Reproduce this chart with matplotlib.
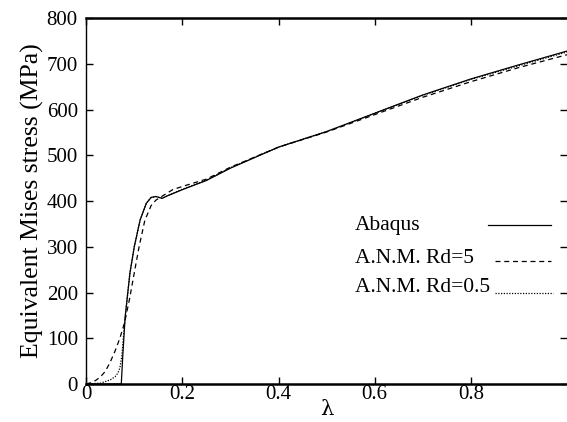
import matplotlib
matplotlib.use("Agg")
import matplotlib.pyplot as plt
import numpy as np

plt.rcParams['font.family'] = ['Liberation Serif', 'DejaVu Serif']

# Abaqus reference solution
lam_abaqus = [0.0, 0.073, 0.076, 0.081, 0.091, 0.1, 0.112, 0.125, 0.135, 0.145,
              0.158, 0.17, 0.2, 0.25, 0.3, 0.4, 0.5, 0.6, 0.7, 0.8, 0.9, 1.0]
s_abaqus = [0, 0, 60, 146, 243, 300, 358, 395, 408, 410,
            406, 412, 425, 445, 472, 518, 552, 592, 632, 667, 698, 728]

# A.N.M. Rd=5
lam_rd5 = [0.0, 0.01, 0.02, 0.03, 0.04, 0.05, 0.06, 0.07, 0.08, 0.09, 0.1,
           0.11, 0.122, 0.135, 0.145, 0.16, 0.18, 0.2, 0.25, 0.3, 0.4, 0.5,
           0.6, 0.7, 0.8, 0.9, 1.0]
s_rd5 = [0, 3, 8, 16, 28, 48, 72, 100, 135, 185, 243,
         300, 358, 390, 402, 412, 425, 432, 448, 474, 518, 551,
         589, 627, 661, 692, 720]

# A.N.M. Rd=0.5
lam_rd05 = [0.0, 0.03, 0.05, 0.06, 0.066, 0.07, 0.074, 0.078, 0.081, 0.091,
            0.1, 0.112, 0.125, 0.135, 0.145, 0.158, 0.17, 0.2, 0.25, 0.3,
            0.4, 0.5, 0.6, 0.7, 0.8, 0.9, 1.0]
s_rd05 = [0, 2, 9, 16, 24, 35, 60, 110, 146, 243,
          300, 358, 395, 408, 410, 406, 412, 426, 446, 473,
          518, 552, 592, 631, 666, 696, 726]

labels = ["Abaqus", "A.N.M. Rd=5", "A.N.M. Rd=0.5"]
styles = ["-", (0, (4, 3)), (0, (1, 1.2))]

fig = plt.figure(figsize=(5.67, 4.22), dpi=100)
ax = fig.add_axes([0.152, 0.09, 0.848, 0.867])

ax.plot(lam_abaqus, s_abaqus, color="black", lw=0.9, ls=styles[0])
ax.plot(lam_rd5, s_rd5, color="black", lw=0.9, ls=styles[1])
ax.plot(lam_rd05, s_rd05, color="black", lw=0.9, ls=styles[2])

ax.set_xlim(0, 1)
ax.set_ylim(0, 800)
ax.set_xticks([0, 0.2, 0.4, 0.6, 0.8])
ax.set_xticklabels(["0", "0.2", "0.4", "0.6", "0.8"])
ax.set_yticks(range(0, 801, 100))
ax.tick_params(direction="in", top=True, right=True, length=5, width=1,
               labelsize=15)
ax.tick_params(axis="y", pad=6)
ax.tick_params(axis="x", pad=1)
for side in ["top", "bottom"]:
    ax.spines[side].set_linewidth(1.8)
ax.spines["left"].set_linewidth(1.0)
ax.spines["right"].set_visible(False)

ax.set_xlabel("λ", fontsize=15, labelpad=-3, family=['DejaVu Serif'])
ax.set_ylabel("Equivalent Mises stress (MPa)", fontsize=18.5, labelpad=2)

# hand-made legend: labels left aligned, line samples to the right
row_y = [0.434, 0.342, 0.265]
line_x = [(0.836, 0.967), (0.85, 0.967), (0.85, 0.971)]
line_dy = [0.0, -0.005, -0.015]
for lab, ls, yy, (x0, x1), dy in zip(labels, styles, row_y, line_x, line_dy):
    ax.text(0.559, yy, lab, transform=ax.transAxes, fontsize=15.5,
            va="center", ha="left")
    ax.plot([x0, x1], [yy + dy, yy + dy], transform=ax.transAxes,
            color="black", lw=0.9, ls=ls)

fig.savefig("out.png", dpi=100)
